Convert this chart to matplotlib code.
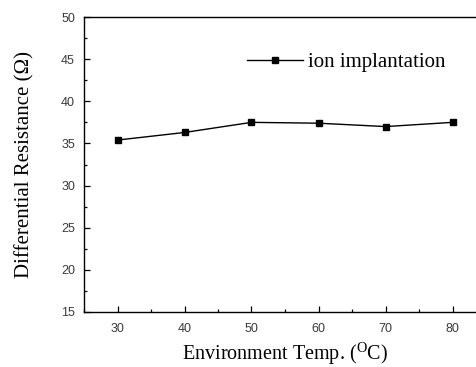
import matplotlib
matplotlib.use("Agg")
import matplotlib.pyplot as plt
from matplotlib.ticker import MultipleLocator

temps = [30, 40, 50, 60, 70, 80]
resistance = [35.4, 36.3, 37.5, 37.4, 37.0, 37.5]
series_label = "ion implantation"

plt.rcParams["mathtext.fontset"] = "custom"
plt.rcParams["mathtext.rm"] = "Liberation Serif"

fig = plt.figure(figsize=(4.76, 3.67), dpi=100)
ax = fig.add_axes([84 / 476, 55 / 367, 402 / 476, 295 / 367])

ax.plot(temps, resistance, color="black", linewidth=1.0, marker="s",
        markersize=5, label=series_label)

ax.set_xlim(25, 85)
ax.set_ylim(15, 50)
ax.xaxis.set_major_locator(MultipleLocator(10))
ax.xaxis.set_minor_locator(MultipleLocator(5))
ax.yaxis.set_major_locator(MultipleLocator(5))
ax.yaxis.set_minor_locator(MultipleLocator(2.5))
ax.tick_params(which="both", direction="in", top=False, right=False,
               labelsize=9, labelcolor="#3a3a3a", width=0.9)
ax.tick_params(which="major", length=4)
ax.tick_params(which="minor", length=2.5)
ax.tick_params(axis="x", which="major", pad=8)
ax.tick_params(axis="y", which="major", pad=6.5)
for lbl in ax.get_xticklabels() + ax.get_yticklabels():
    lbl.set_family("Liberation Sans")
for s in ax.spines.values():
    s.set_linewidth(1.0)

ax.set_xlabel(r"Environment Temp. ($^{\mathregular{O}}$C)",
              family="Liberation Serif", fontsize=14.5)
ax.set_ylabel("Differential Resistance (\u03a9)", family="Liberation Serif",
              fontsize=15)
ax.xaxis.set_label_coords(0.5, -0.094)
ax.yaxis.set_label_coords(-0.122, 0.5)

leg = ax.legend(loc="center left", bbox_to_anchor=(0.385, 0.847), frameon=False,
                prop={"family": "Liberation Serif", "size": 15},
                handlelength=2.7, handletextpad=0.2, borderaxespad=0)

fig.savefig("out.png", dpi=100)
